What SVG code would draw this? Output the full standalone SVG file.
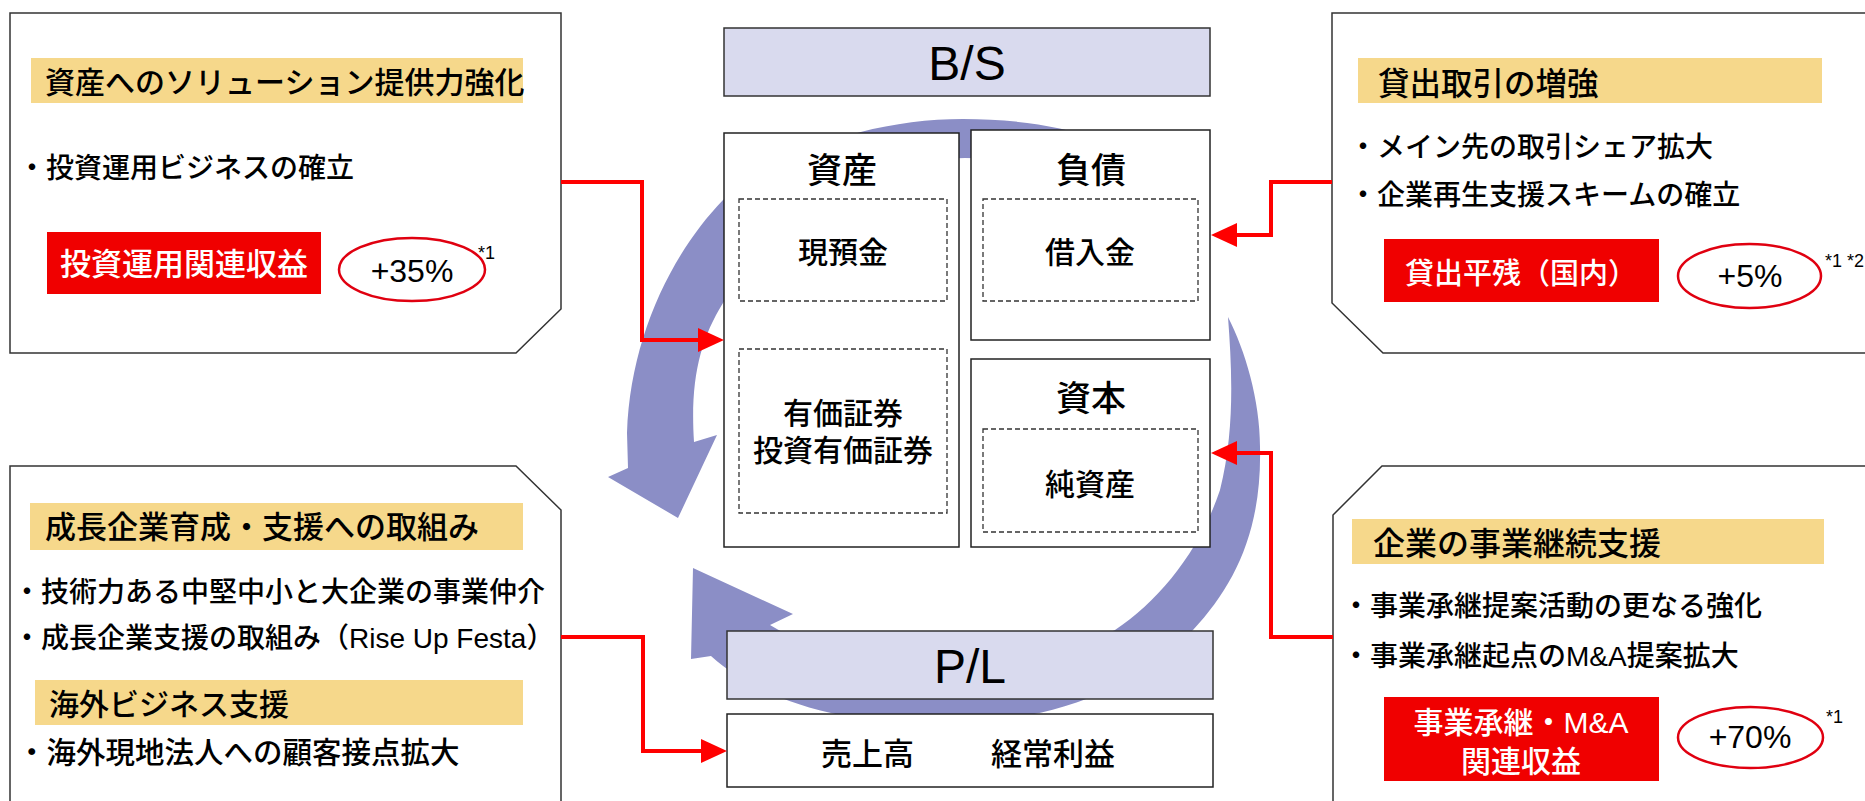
<svg xmlns="http://www.w3.org/2000/svg" width="1865" height="801" viewBox="0 0 1865 801">
<style>
  text { font-family: "Liberation Sans", "Noto Sans CJK JP", sans-serif; fill: #000; font-weight: 500; }
  .panel { fill: #fff; stroke: #333; stroke-width: 1.5; }
  .hdr { fill: #f6d88b; }
  .hdrt { font-size: 30px; }
  .bul { font-size: 28px; }
  .kpi { fill: #f00000; }
  .kpit { fill: #fff; font-size: 31px; text-anchor: middle; }
  .oval { fill: #fff; stroke: #e00010; stroke-width: 2.5; }
  .pct { font-size: 32px; text-anchor: middle; }
  .note { font-size: 18px; }
  .box { fill: #fff; stroke: #222; stroke-width: 1.5; }
  .dash { fill: none; stroke: #333; stroke-width: 1.3; stroke-dasharray: 5 3; }
  .bst { fill: #d9daee; stroke: #333; stroke-width: 1.5; }
  .big { font-size: 48px; text-anchor: middle; }
  .cat { font-size: 35px; text-anchor: middle; }
  .item { font-size: 30px; text-anchor: middle; }
  .band { fill: #8b8ec6; }
  .conn { fill: none; stroke: #ff0000; stroke-width: 4; marker-end: url(#ah); }
</style>
<defs>
  <marker id="ah" markerUnits="userSpaceOnUse" markerWidth="27" markerHeight="26" refX="0" refY="13" orient="auto" overflow="visible">
    <path d="M0,1 L26,13 L0,25 Z" fill="#ff0000"/>
  </marker>
</defs>
<rect width="1865" height="801" fill="#fff"/>

<g id="cycle-arrows">
  <path class="band" d="M1100,140 C1060,125 1010,119 963,119 C880,119 790,145 723,200 C670,255 630,340 627,433 L628,468 L608,477 L678,518 L717,435 L694,442 C690,380 700,340 723,303 C780,210 870,158 965,158 C1010,158 1060,163 1100,175 Z"/>
  <path class="band" d="M1228,317 C1245,350 1260,400 1260,447 C1262,530 1235,585 1193,630 C1125,700 1030,724 935,724 C840,724 760,700 711,656 L691,659 L693,568 L793,614 L770,625 C810,650 870,664 935,664 C1000,664 1070,652 1115,630 C1160,600 1200,550 1220,490 C1235,430 1232,370 1228,317 Z"/>
</g>

<g id="bs-header">
  <rect class="bst" x="724" y="28" width="486" height="68"/>
  <text class="big" x="967" y="80">B/S</text>
</g>
<g id="assets">
  <rect class="box" x="724" y="133" width="235" height="414"/>
  <text class="cat" x="842" y="183">資産</text>
</g>
<g id="cash">
  <rect class="dash" x="739" y="199" width="208" height="102"/>
  <text class="item" x="843" y="263">現預金</text>
</g>
<g id="securities">
  <rect class="dash" x="739" y="349" width="208" height="164"/>
  <text class="item" x="843" y="424">有価証券</text>
  <text class="item" x="843" y="461">投資有価証券</text>
</g>
<g id="liabilities">
  <rect class="box" x="971" y="130" width="239" height="210"/>
  <text class="cat" x="1091" y="183">負債</text>
</g>
<g id="borrowings">
  <rect class="dash" x="983" y="199" width="215" height="102"/>
  <text class="item" x="1090" y="263">借入金</text>
</g>
<g id="capital">
  <rect class="box" x="971" y="359" width="239" height="188"/>
  <text class="cat" x="1091" y="411">資本</text>
</g>
<g id="net-assets">
  <rect class="dash" x="983" y="429" width="215" height="103"/>
  <text class="item" x="1090" y="495">純資産</text>
</g>
<g id="pl-header">
  <rect class="bst" x="727" y="631" width="486" height="68"/>
  <text class="big" x="970" y="683">P/L</text>
</g>
<g id="pl-items">
  <rect class="box" x="727" y="714" width="486" height="73"/>
  <text x="821" y="765" font-size="31">売上高</text>
  <text x="991" y="765" font-size="31">経常利益</text>
</g>

<g id="asset-solutions">
  <path class="panel" d="M10,13 H561 V309 L516,353 H10 Z"/>
  <rect class="hdr" x="31" y="58" width="492" height="45"/>
  <text class="hdrt" x="45" y="93" font-size="29.5">資産へのソリューション提供力強化</text>
  <text class="bul" x="18" y="178">・投資運用ビジネスの確立</text>
  <rect class="kpi" x="47" y="232" width="274" height="62"/>
  <text class="kpit" x="184" y="275">投資運用関連収益</text>
  <ellipse class="oval" cx="412" cy="269.5" rx="73" ry="31.5"/>
  <text class="pct" x="412" y="282">+35%</text>
  <text class="note" x="478" y="259">*1</text>
</g>

<g id="lending">
  <path class="panel" d="M1332,13 H1875 V353 H1383 L1332,303 Z"/>
  <rect class="hdr" x="1358" y="58" width="464" height="45"/>
  <text class="hdrt" x="1378" y="95" style="font-size:31.5px">貸出取引の増強</text>
  <text class="bul" x="1349" y="157">・メイン先の取引シェア拡大</text>
  <text class="bul" x="1349" y="205">・企業再生支援スキームの確立</text>
  <rect class="kpi" x="1384" y="239" width="275" height="63"/>
  <text class="kpit" x="1521" y="284" style="font-size:29px">貸出平残（国内）</text>
  <ellipse class="oval" cx="1749.5" cy="276" rx="71.5" ry="32"/>
  <text class="pct" x="1750" y="287">+5%</text>
  <text class="note" x="1825" y="267">*1 *2</text>
</g>

<g id="growth-support">
  <path class="panel" d="M10,466 H516 L561,510 V815 H10 Z"/>
  <rect class="hdr" x="30" y="503" width="493" height="47"/>
  <text class="hdrt" x="45" y="538" style="font-size:31px">成長企業育成・支援への取組み</text>
  <text class="bul" x="13" y="602">・技術力ある中堅中小と大企業の事業仲介</text>
  <text class="bul" x="13" y="648">・成長企業支援の取組み（Rise Up Festa）</text>
  <rect class="hdr" x="35" y="680" width="488" height="45"/>
  <text class="hdrt" x="49" y="715">海外ビジネス支援</text>
  <text class="bul" x="17" y="763" style="font-size:29.5px">・海外現地法人への顧客接点拡大</text>
</g>

<g id="business-continuity">
  <path class="panel" d="M1382,466 H1875 V815 H1333 V515 Z"/>
  <rect class="hdr" x="1352" y="519" width="472" height="45"/>
  <text class="hdrt" x="1373" y="555" style="font-size:32px">企業の事業継続支援</text>
  <text class="bul" x="1342" y="616">・事業承継提案活動の更なる強化</text>
  <text class="bul" x="1342" y="666">・事業承継起点のM&amp;A提案拡大</text>
  <rect class="kpi" x="1384" y="697" width="275" height="84"/>
  <text class="kpit" x="1521" y="733" style="font-size:30px">事業承継・M&amp;A</text>
  <text class="kpit" x="1521" y="772" style="font-size:30px">関連収益</text>
  <ellipse class="oval" cx="1750.5" cy="737.5" rx="72.5" ry="30.5"/>
  <text class="pct" x="1750" y="748">+70%</text>
  <text class="note" x="1826" y="723">*1</text>
</g>

<g id="connectors">
  <path class="conn" d="M561,182 H642 V340 H698"/>
  <path class="conn" d="M1332,182 H1271 V235 H1237"/>
  <path class="conn" d="M561,637 H643 V751 H701"/>
  <path class="conn" d="M1333,637 H1271 V453 H1237"/>
</g>
</svg>
